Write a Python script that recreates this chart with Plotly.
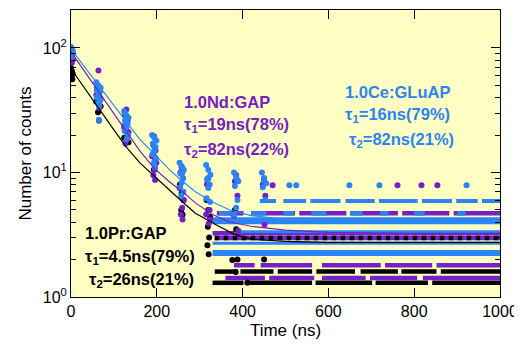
import plotly.graph_objects as go

# ---------------- data (time in ns, counts) ----------------
# fitted decay curves
ce_fit_t = [0, 30, 64, 100, 129, 160, 194, 230, 260, 290, 330, 370, 420, 500, 600, 800, 1000]
ce_fit_v = [98, 72, 50, 35, 25.5, 18.5, 14, 10.5, 8.5, 7.0, 5.8, 5.0, 4.5, 4.2, 4.05, 4.0, 4.0]
nd_fit_t = [0, 30, 64, 100, 129, 160, 194, 230, 260, 290, 330, 370, 420, 500, 600, 800, 1000]
nd_fit_v = [93, 66, 45, 30, 21.5, 15, 10.8, 8.4, 7.0, 5.7, 4.6, 4.0, 3.7, 3.45, 3.3, 3.25, 3.25]
pr_fit_t = [0, 30, 64, 100, 129, 160, 194, 230, 260, 290, 338, 380, 423, 500, 600, 1000]
pr_fit_v = [68, 48, 33, 22, 16, 12, 9.3, 7.2, 5.8, 4.7, 3.8, 3.2, 2.9, 2.8, 2.75, 2.75]

# measured points in the early columns
ce_t = [0, 2, 4, 1, 3, 2, 5,
        59, 64, 69, 61, 67, 64, 60, 68, 63, 66, 65, 62,
        124, 129, 134, 126, 132, 129, 125, 133, 130, 127,
        189, 194, 199, 191, 197, 194, 190, 198, 193, 196, 192,
        253, 258, 263, 255, 261, 258, 254, 262, 257, 260,
        315, 320, 325, 317, 323, 320, 316, 324, 319,
        380, 385, 390, 382, 388, 385, 381, 387,
        445, 450, 455, 447, 453, 450,
        509, 525, 649, 719, 922]
ce_v = [102, 98, 95, 92, 88, 85, 90,
        53, 50, 48, 46, 44, 42, 40, 38, 36, 34, 26.5, 45,
        31, 29, 27.5, 26, 24.5, 23, 21.5, 20, 18.5, 25,
        20, 19, 18, 17, 16, 15, 14, 13, 12, 11, 16.5,
        12, 11.2, 10.5, 9.8, 9, 8.3, 7.6, 7, 6.5, 10,
        11.5, 10.5, 9.6, 8.8, 8, 7.5, 6.2, 5.8, 9,
        10, 9.2, 8.5, 7.8, 6.0, 5.2, 4.6, 8.8,
        10, 9, 8.2, 7.6, 6.0, 8.6,
        7.9, 7.9, 7.9, 7.9, 7.9]

nd_t = [0, 3, 1, 4, 2,
        64, 61, 67, 59, 69, 63, 66, 65,
        129, 126, 132, 124, 134, 130, 127,
        194, 191, 197, 189, 199, 195, 192, 196,
        258, 255, 261, 253, 263, 259, 256, 260,
        320, 317, 323, 315, 325, 321,
        385, 382, 388, 380, 390,
        450, 447, 453, 451,
        470, 761, 817, 854]
nd_v = [95, 90, 85, 80, 76,
        66, 48, 45, 42, 39, 36, 33, 26,
        32, 29, 26, 23, 21, 19, 17,
        19.5, 17, 15, 13.5, 12, 10.5, 9.5, 8.7,
        11, 10, 9, 7.5, 6, 5.2, 4.6, 4.2,
        9, 8, 5, 4.6, 4.2, 3.9,
        9.5, 8.5, 6.5, 4.5, 3.4,
        9, 8, 6.5, 3.8,
        7.9, 7.9, 7.9, 7.9]

pr_t = [0, 2, 4, 1, 3,
        61, 64, 67, 59, 69, 63,
        126, 129, 132, 124, 134,
        191, 194, 197, 193,
        254, 258, 262, 257, 260,
        316, 320, 324, 319, 322, 318, 321,
        382, 385, 388, 384,
        376, 411, 450]
pr_v = [69, 65, 62, 59, 56,
        46, 43, 40, 37, 34, 30.5,
        24, 22, 20.5, 19, 17.5,
        14, 13.3, 12, 10.5,
        8, 6.8, 6.0, 5.0, 4.6,
        6.0, 5.0, 4.4, 3.66, 3.0, 2.6, 2.2,
        5.0, 3.5, 2.0, 1.59,
        1.98, 1.3, 2.0]

# late-time count levels (quantised bands): level, list of time segments
pr_band_levels = [1.6, 1.3]
pr_band_segs = [[(335, 385), (395, 472), (482, 562), (572, 662), (675, 762), (770, 852), (862, 1000)],
                [(330, 402), (412, 562), (570, 702), (710, 832), (842, 1000)]]
pr_dot_levels = [2.98]
pr_dot_segs = [[(335, 1000)]]

nd_band_levels = [4.7, 3.25, 2.98, 1.8, 1.42]
nd_band_segs = [[(340, 402), (420, 522), (532, 642), (652, 762), (772, 882), (892, 1000)],
                [(330, 1000)],
                [(335, 1000)],
                [(380, 428), (442, 562), (585, 722), (732, 842), (852, 1000)],
                [(360, 452), (462, 567), (585, 687), (697, 807), (820, 1000)]]

ce_band_levels = [5.9, 4.1, 3.35, 2.7, 2.26]
ce_band_segs = [[(440, 478), (495, 548), (558, 628), (640, 708), (718, 808), (818, 888), (898, 948), (958, 1000)],
                [(330, 1000)],
                [(380, 1000)],
                [(330, 1000)],
                [(330, 1000)]]
ce_band_widths = [4, 7, 3, 3, 6]
ce_spot_levels = [4.7]
ce_spot_segs = [[(345, 375), (420, 455), (495, 520), (560, 595), (650, 680), (720, 740), (800, 825), (900, 920)]]

# ---------------- styling ----------------
BLUE = "rgb(42,132,246)"
PURPLE = "rgb(118,32,200)"
BLACK = "rgb(0,0,0)"
FONT = "Liberation Sans, Arial, sans-serif"

# the page body has an 8px default margin; place the plot area at the
# reference's page position (plot box x 71..500.5, y 10..297 on a 522x347 page)
OFF = 8
FIG_W, FIG_H = 522 - OFF, 347 - OFF
L, R, T, B = 71 - OFF, 21.5, 10 - OFF, 50
PW, PH = FIG_W - L - R, FIG_H - T - B


def band_xy(levels, segs):
    xs, ys = [], []
    for lvl, sl in zip(levels, segs):
        for a, b in sl:
            xs += [a, b, None]
            ys += [lvl, lvl, None]
    return xs, ys


fig = go.Figure()


def add_band(levels, segs, color, width, dash="solid"):
    bx, by = band_xy(levels, segs)
    fig.add_trace(go.Scatter(x=bx, y=by, mode="lines", line=dict(color=color, width=width, dash=dash),
                             hoverinfo="skip", showlegend=False))


# draw order: black, purple, blue
add_band(pr_band_levels, pr_band_segs, BLACK, 4.5)
add_band(nd_band_levels, nd_band_segs, PURPLE, 4.5)
add_band(pr_dot_levels, pr_dot_segs, BLACK, 4.5, dash="dot")
for lvl, seg, w in zip(ce_band_levels, ce_band_segs, ce_band_widths):
    add_band([lvl], [seg], BLUE, w)
add_band(ce_spot_levels, ce_spot_segs, BLUE, 4.5)

for t, v, color in [(pr_t, pr_v, BLACK), (nd_t, nd_v, PURPLE), (ce_t, ce_v, BLUE)]:
    fig.add_trace(go.Scatter(x=t, y=v, mode="markers",
                             marker=dict(color=color, size=6, line=dict(width=0)),
                             showlegend=False))

for t, v, color in [(pr_fit_t, pr_fit_v, BLACK), (nd_fit_t, nd_fit_v, PURPLE),
                    (ce_fit_t, ce_fit_v, "rgb(40,140,240)")]:
    fig.add_trace(go.Scatter(x=t, y=v, mode="lines", line=dict(color=color, width=1.2, shape="linear"),
                             showlegend=False))


def px(xp):  # page x pixel -> paper fraction
    return (xp - OFF - L) / PW


def py(yp):  # page y pixel -> paper fraction
    return (FIG_H - B - (yp - OFF)) / PH


labels = [
    (343, 92, "1.0Ce:GLuAP", BLUE),
    (343, 115, "τ<sub>1</sub>=16ns(79%)", BLUE),
    (347, 140, "τ<sub>2</sub>=82ns(21%)", BLUE),
    (182, 102, "1.0Nd:GAP", PURPLE),
    (182, 125, "τ<sub>1</sub>=19ns(78%)", PURPLE),
    (182, 150, "τ<sub>2</sub>=82ns(22%)", PURPLE),
    (83, 233, "1.0Pr:GAP", BLACK),
    (83, 257, "τ<sub>1</sub>=4.5ns(79%)", BLACK),
    (87, 280, "τ<sub>2</sub>=26ns(21%)", BLACK),
]
for x0, y0, txt, col in labels:
    fig.add_annotation(x=px(x0), y=py(y0), xref="paper", yref="paper", text="<b>" + txt + "</b>",
                       showarrow=False, xanchor="left", yanchor="middle",
                       font=dict(family=FONT, size=16.5, color=col))

fig.update_layout(
    width=FIG_W, height=FIG_H,
    margin=dict(l=L, r=R, t=T, b=B, autoexpand=False),
    paper_bgcolor="white",
    plot_bgcolor="rgb(255,255,196)",
    font=dict(family=FONT, size=16, color="black"),
    showlegend=False,
)
fig.update_xaxes(range=[0, 1000], tickvals=[0, 200, 400, 600, 800, 1000],
                 ticks="inside", ticklen=9, tickcolor="black", showline=True, linecolor="black",
                 linewidth=1, mirror="allticks", showgrid=False, zeroline=False, automargin=False,
                 title=dict(text="Time (ns)", standoff=4, font=dict(family=FONT, size=17)),
                 tickfont=dict(family=FONT, size=16))
fig.update_yaxes(type="log", range=[0, 2.305], tickvals=[1, 10, 100],
                 ticktext=["10<sup>0</sup>", "10<sup>1</sup>", "10<sup>2</sup>"],
                 ticks="inside", ticklen=9, tickcolor="black", showline=True, linecolor="black",
                 linewidth=1, mirror="allticks", showgrid=False, zeroline=False, automargin=False,
                 minor=dict(ticks="inside", ticklen=5, tickcolor="black", showgrid=False,
                            tickvals=[2, 3, 4, 5, 6, 7, 8, 9, 20, 30, 40, 50, 60, 70, 80, 90, 200]),
                 title=dict(text="Number of counts", standoff=6, font=dict(family=FONT, size=17)),
                 tickfont=dict(family=FONT, size=16))

fig.write_html("out.html")
